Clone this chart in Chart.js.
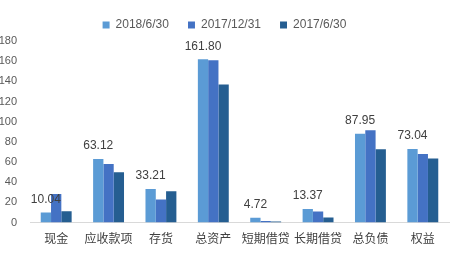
<!DOCTYPE html>
<html>
<head>
<meta charset="utf-8">
<script src="https://cdn.jsdelivr.net/npm/chart.js@4"></script>
<style>
  html, body { margin: 0; padding: 0; background: #fff; }
  #wrap { width: 450px; height: 255px; }
</style>
</head>
<body>
<div id="wrap"><canvas id="c"></canvas></div>
<script>
const categories = ["现金", "应收款项", "存货", "总资产", "短期借贷", "长期借贷", "总负债", "权益"];
const seriesNames = ["2018/6/30", "2017/12/31", "2017/6/30"];
const values2018h1 = [10.04, 63.12, 33.21, 161.80, 4.72, 13.37, 87.95, 73.04];
const values2017fy = [28.3, 58.0, 23.0, 161.0, 1.5, 11.0, 91.6, 68.0];
const values2017h1 = [11.3, 50.0, 31.0, 137.0, 1.0, 5.0, 72.6, 63.5];
const yTicks = [0, 20, 40, 60, 80, 100, 120, 140, 160, 180];

const colors = ["#5B9BD5", "#4472C4", "#255E91"];

// value labels above the first series only
const labelPlugin = {
  id: "firstLabels",
  afterDatasetsDraw(chart) {
    const ctx = chart.ctx;
    const meta = chart.getDatasetMeta(0);
    ctx.save();
    ctx.font = "12px 'Liberation Sans', Arial, sans-serif";
    ctx.fillStyle = "#404040";
    ctx.textAlign = "center";
    ctx.textBaseline = "bottom";
    meta.data.forEach((bar, i) => {
      ctx.fillText(values2018h1[i].toFixed(2), bar.x, bar.y - 7);
    });
    ctx.restore();
  }
};

new Chart(document.getElementById("c"), {
  type: "bar",
  data: {
    labels: categories,
    datasets: [
      { label: seriesNames[0], data: values2018h1, backgroundColor: colors[0] },
      { label: seriesNames[1], data: values2017fy, backgroundColor: colors[1] },
      { label: seriesNames[2], data: values2017h1, backgroundColor: colors[2] }
    ]
  },
  options: {
    responsive: true,
    maintainAspectRatio: false,
    animation: false,
    layout: { padding: { left: 0, right: 1, top: 0, bottom: 0 } },
    datasets: { bar: { barPercentage: 1.0, categoryPercentage: 0.59 } },
    scales: {
      x: {
        grid: { display: false, drawTicks: false },
        border: { color: "#D9D9D9" },
        ticks: { color: "#404040", font: { size: 12, family: "'Noto Sans CJK SC', sans-serif" }, padding: 9, maxRotation: 0, autoSkip: false }
      },
      y: {
        min: 0, max: 180,
        afterBuildTicks(axis) { axis.ticks = yTicks.map(v => ({ value: v })); },
        afterFit(axis) { axis.width = 30; },
        grid: { display: false, drawTicks: false },
        border: { display: false },
        ticks: { color: "#595959", font: { size: 11, family: "'Liberation Sans', Arial, sans-serif" }, padding: 13 }
      }
    },
    plugins: {
      legend: {
        position: "top",
        labels: { boxWidth: 7, boxHeight: 7, color: "#595959", font: { size: 12, family: "'Liberation Sans', Arial, sans-serif" }, padding: 19 }
      },
      tooltip: { enabled: false }
    }
  },
  plugins: [labelPlugin]
});
</script>
</body>
</html>
